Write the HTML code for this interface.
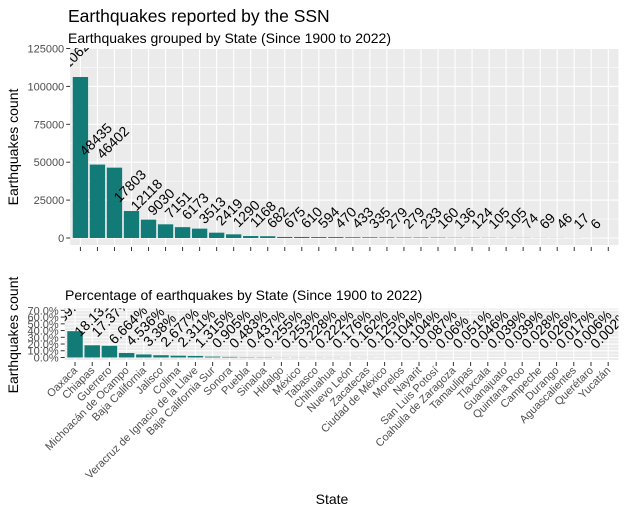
<!DOCTYPE html>
<html><head><meta charset="utf-8"><style>
body{margin:0;background:#fff;}
text{font-family:"Liberation Sans",Arial,sans-serif;}
</style></head><body>
<svg id="c" width="624" height="515" xmlns="http://www.w3.org/2000/svg"></svg>
<script>
const states=["Oaxaca","Chiapas","Guerrero","Michoacán de Ocampo","Baja California","Jalisco","Colima","Veracruz de Ignacio de la Llave","Baja California Sur","Sonora","Puebla","Sinaloa","Hidalgo","México","Tabasco","Chihuahua","Nuevo León","Zacatecas","Ciudad de México","Morelos","Nayarit","San Luis Potosí","Coahuila de Zaragoza","Tamaulipas","Tlaxcala","Guanajuato","Quintana Roo","Campeche","Durango","Aguascalientes","Querétaro","Yucatán"];
const counts=[106200,48435,46402,17803,12118,9030,7151,6173,3513,2419,1290,1168,682,675,610,594,470,433,335,279,279,233,160,136,124,105,105,74,69,46,17,6];
const pcts=[39.1,18.131,17.37,6.664,4.536,3.38,2.677,2.311,1.315,0.905,0.483,0.437,0.255,0.253,0.228,0.222,0.176,0.162,0.125,0.104,0.104,0.087,0.06,0.051,0.046,0.039,0.039,0.028,0.026,0.017,0.006,0.002];
const pctLabels=["39.1%","18.131%","17.37%","6.664%","4.536%","3.38%","2.677%","2.311%","1.315%","0.905%","0.483%","0.437%","0.255%","0.253%","0.228%","0.222%","0.176%","0.162%","0.125%","0.104%","0.104%","0.087%","0.06%","0.051%","0.046%","0.039%","0.039%","0.028%","0.026%","0.017%","0.006%","0.002%"];
const countTicks=[0,25000,50000,75000,100000,125000];
const pctTicks=[0,10,20,30,40,50,60,70];

const svg=document.getElementById('c');
const NS='http://www.w3.org/2000/svg';
function mk(tag,a,parent,name){const e=document.createElementNS(NS,tag);for(const k in a)e.setAttribute(k,a[k]);


(parent||svg).appendChild(e);return e;}
function txt(s,a,parent,name){const e=mk('text',a,parent,name);e.textContent=s;return e;}

txt("Earthquakes reported by the SSN",{x:68,y:22,'font-size':17.5,fill:'#000'},null,'chart-title');
txt("Earthquakes grouped by State (Since 1900 to 2022)",{x:68,y:43,'font-size':14,fill:'#000'},null,'top-subtitle');
txt("Percentage of earthquakes by State (Since 1900 to 2022)",{x:65,y:300,'font-size':14,fill:'#000'},null,'bottom-subtitle');
txt("Earthquakes count",{x:0,y:0,'font-size':14,'text-anchor':'middle',transform:'translate(18,147) rotate(-90)'},null,'top-y-axis-title');
txt("Earthquakes count",{x:0,y:0,'font-size':14,'text-anchor':'middle',transform:'translate(18,335) rotate(-90)'},null,'bottom-y-axis-title');
txt("State",{x:332,y:504,'font-size':14,'text-anchor':'middle'},null,'x-axis-title');

const defs=mk('defs',{},null,'defs');
function panel(id,L,R,T,B,vals,maxV,ticks,tickFmt,labels,tickFs){
  const n=vals.length, step=(R-L)/(n+0.2);
  const X=i=>L+(i+0.6)*step;
  const Y=v=>B-(v/maxV)*(B-T);
  const cp=mk('clipPath',{id:id},defs,id+'-clip');
  mk('rect',{x:L,y:T-0.5,width:R-L,height:(B-T)+( id==='top'?7:3)},cp,id+'-clip-rect');
  const g=mk('g',{},null,id+'-panel');
  mk('rect',{x:L,y:T-0.5,width:R-L,height:(B0(id)-T+0.5)},g,id+'-panel-bg').setAttribute('fill','#ebebeb');
  for(let k=0;k<ticks.length-1;k++){const v=(ticks[k]+ticks[k+1])/2;
    mk('line',{x1:L,x2:R,y1:Y(v),y2:Y(v),stroke:'#fff','stroke-width':0.5},g,id+'-minor-grid');}
  ticks.forEach(t=>{mk('line',{x1:L,x2:R,y1:Y(t),y2:Y(t),stroke:'#fff','stroke-width':1.1},g,id+'-major-grid');
    mk('line',{x1:L-4,x2:L,y1:Y(t),y2:Y(t),stroke:'#333','stroke-width':1},null,id+'-y-tick');
    txt(tickFmt(t),{x:L-6,y:Y(t)+tickFs*0.36,'font-size':tickFs,'text-anchor':'end',fill:'#4d4d4d'},null,id+'-y-tick-label');});
  const cg=mk('g',{'clip-path':'url(#'+id+')'},null,id+'-marks');
  vals.forEach((v,i)=>{mk('line',{x1:X(i),x2:X(i),y1:T,y2:B0(id),stroke:'#fff','stroke-width':1.1},g,id+'-x-grid');
    mk('line',{x1:X(i),x2:X(i),y1:B0(id)+2,y2:B0(id)+6,stroke:'#333','stroke-width':1},null,id+'-x-tick');});
  vals.forEach((v,i)=>{
    mk('rect',{x:X(i)-0.45*step,y:Y(v),width:0.9*step,height:B-Y(v),fill:'#127b78'},cg,id+'-bar-'+i);});
  vals.forEach((v,i)=>{
    const ax=X(i)-12, ay=Y(v)-8;
    txt(labels[i],{x:ax,y:ay,'font-size':14,fill:'#000',transform:'rotate(-45 '+ax+' '+ay+')'},cg,id+'-value-label');});
  return X;
}
function B0(id){return id==='top'?245:360;}
panel('top',70.2,618.5,48.5,238,counts,125000,countTicks,t=>String(t),counts.map(String),11);
const Xb=panel('bot',64.7,618.5,309,357.5,pcts,72,pctTicks,t=>t.toFixed(1)+'%',pctLabels,11);
states.forEach((s,i)=>{const x=Xb(i)+3,y=371;
  txt(s,{x:x,y:y,'font-size':11,'text-anchor':'end',fill:'#4d4d4d',transform:'rotate(-45 '+x+' '+y+')'},null,'x-tick-label');});
</script>
</body></html>
